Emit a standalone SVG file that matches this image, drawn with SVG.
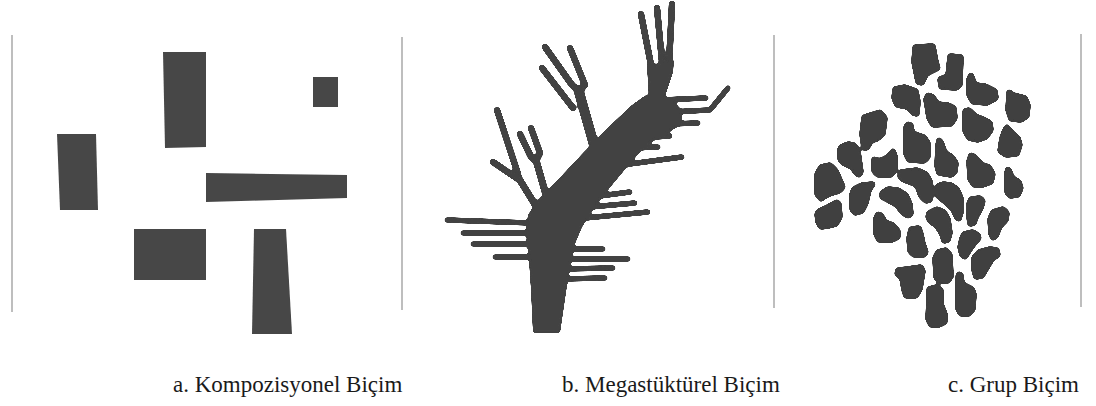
<svg xmlns="http://www.w3.org/2000/svg" width="1096" height="406" viewBox="0 0 1096 406">
<defs>
<style>
.frame{stroke:#a8a8a8;stroke-width:1.5;fill:none}
.blk{fill:#474747}
.tree{fill:#424242}
.br{fill:none;stroke:#424242;stroke-width:6.5;stroke-linejoin:round;stroke-linecap:round}
.rung{fill:none;stroke:#424242;stroke-width:5.5;stroke-linejoin:round;stroke-linecap:round}
.blob{fill:#3f3f3f;stroke:#3f3f3f;stroke-width:5.5;stroke-linejoin:round}
.lbl{font-family:"Liberation Serif","Times New Roman",serif;font-size:23px;fill:#1a1a1a}
</style>
<filter id="soft" x="-5%" y="-5%" width="110%" height="110%"><feGaussianBlur stdDeviation="0.5"/></filter>
<filter id="goo" x="-5%" y="-5%" width="110%" height="110%">
<feGaussianBlur in="SourceGraphic" stdDeviation="1.6" result="b"/>
<feColorMatrix in="b" type="matrix" values="1 0 0 0 0  0 1 0 0 0  0 0 1 0 0  0 0 0 16 -7" result="g"/>
<feGaussianBlur in="g" stdDeviation="0.5"/>
</filter>
</defs>
<rect width="1096" height="406" fill="#ffffff"/>

<g id="frames">
<line class="frame" x1="12" y1="35" x2="12" y2="312"/>
<line class="frame" x1="402" y1="37" x2="402" y2="310"/>
<line class="frame" x1="774" y1="35" x2="774" y2="308"/>
<line class="frame" x1="1081" y1="34" x2="1081" y2="307"/>
</g>

<g id="panel-a" filter="url(#soft)">
<polygon class="blk" points="163,52 206,52 206,147 165,148"/>
<polygon class="blk" points="313,77 338,77 338,107 313,107"/>
<polygon class="blk" points="57,134 96,134 98,210 60,210"/>
<polygon class="blk" points="206,173 347,175 347,198 206,202"/>
<polygon class="blk" points="134,229 206,229 206,280 134,280"/>
<polygon class="blk" points="254,229 286,229 292,334 252,334"/>
</g>

<g id="panel-b" filter="url(#goo)">
<polygon class="tree" points="533,333 531,290 529,260 526,232 528,215 537,201 551,187 568,169 584,152 599,137 616,120 632,105 646,95 672,98 681,110 682,124 669,132 656,139 643,149 632,161 622,173 612,185 602,197 592,211 582,227 574,246 570,266 566,292 560,333"/>
<g id="top-branch">
<polyline class="br" points="641,14 652,70"/>
<polyline class="br" points="657,8 662,62"/>
<polyline class="br" points="672,4 669,66"/>
<polygon class="tree" points="647,66 674,60 673,72 664,99 649,99"/>
</g>
<g id="mid-branch">
<path class="br" d="M545,47 L572,85 Q579,93 585,85 L570,48"/>
<polyline class="br" points="542,68 573,108"/>
<polyline class="br" style="stroke-width:10" points="579,92 594,145"/>
</g>
<g id="low-branch">
<polyline class="br" points="497,110 518,174"/>
<polyline class="br" points="493,162 518,179"/>
<polyline class="br" style="stroke-width:7" points="518,177 539,211"/>
<path class="br" d="M520,134 L531,157 Q536,163 540,153 L531,128"/>
<polyline class="br" style="stroke-width:7" points="536,160 548,202"/>
</g>
<g id="rungs">
<polyline class="rung" points="660,100 706,98"/>
<polyline class="rung" points="670,112 710,110 728,88"/>
<polyline class="rung" points="670,124 698,123"/>
<polyline class="rung" points="640,138 670,136"/>
<polyline class="rung" points="632,148 658,147"/>
<polyline class="rung" points="622,165 682,157"/>
<polyline class="rung" points="592,197 630,192"/>
<polyline class="rung" points="590,207 635,203"/>
<polyline class="rung" points="585,218 648,212"/>
<polyline class="rung" points="565,249 603,249"/>
<polyline class="rung" points="563,259 628,259"/>
<polyline class="rung" points="562,269 613,268"/>
<polyline class="rung" points="561,279 605,278"/>
<polyline class="rung" points="447,220 533,223"/>
<polyline class="rung" points="463,233 532,233"/>
<polyline class="rung" points="473,244 532,244"/>
<polyline class="rung" points="495,257 533,257"/>
</g>
</g>

<g id="panel-c" filter="url(#goo)">
<polygon class="blob" points="915,47 933,46 936,62 938,68 926,74 922,83 918,82 914,62"/>
<polygon class="blob" points="950,56 961,57 960,85 956,88 941,87 940,79 948,76"/>
<polygon class="blob" points="971,75 975,85 985,86 995,91 996,98 987,103 973,102 969,95 969,79"/>
<polygon class="blob" points="1009,92 1013,95 1025,98 1028,105 1027,116 1021,120 1011,119 1008,110"/>
<polygon class="blob" points="895,89 905,87 916,91 918,102 917,114 913,113 908,107 897,105 894,98"/>
<polygon class="blob" points="928,95 933,97 937,104 948,105 954,108 955,118 951,124 933,125 929,118 926,99"/>
<polygon class="blob" points="965,111 969,110 975,116 983,119 990,123 991,130 986,137 978,140 969,138 965,131"/>
<polygon class="blob" points="1007,127 1012,133 1018,138 1020,145 1017,154 1006,155 1000,151 1002,138 1005,130"/>
<polygon class="blob" points="864,117 880,112 885,118 883,134 877,139 871,141 867,148 864,148 862,134"/>
<polygon class="blob" points="908,124 911,125 912,133 924,137 928,143 928,157 924,161 909,160 906,154 906,127"/>
<polygon class="blob" points="939,140 941,142 945,153 952,157 956,163 955,172 951,175 939,173 937,166 938,145"/>
<polygon class="blob" points="971,155 975,157 982,165 989,167 993,174 991,182 983,185 974,185 970,179 969,161"/>
<polygon class="blob" points="1008,169 1010,172 1012,178 1019,182 1021,188 1018,195 1010,196 1007,192 1007,172"/>
<polygon class="blob" points="841,147 848,144 854,145 858,151 860,165 861,172 859,175 856,173 852,167 843,163 840,159 840,149"/>
<polygon class="blob" points="874,159 880,161 888,157 893,151 895,156 895,169 891,175 878,175 874,171"/>
<polygon class="blob" points="821,167 830,165 836,171 840,180 843,187 839,191 832,193 825,196 821,199 817,194 817,174"/>
<polygon class="blob" points="901,172 917,170 926,174 930,181 931,193 930,200 926,201 921,196 917,185 904,180 900,177"/>
<polygon class="blob" points="938,186 943,184 951,185 957,189 961,198 961,212 959,219 957,218 953,209 943,200 938,196 937,190"/>
<polygon class="blob" points="854,189 862,185 873,184 869,190 866,203 862,211 855,213 852,209 852,194"/>
<polygon class="blob" points="882,193 888,189 898,190 906,195 910,204 911,214 908,216 903,213 897,205 888,200 882,197"/>
<polygon class="blob" points="819,211 828,207 837,202 839,204 840,217 836,224 828,226 821,227 818,222 817,214"/>
<polygon class="blob" points="971,199 980,198 983,201 981,208 976,217 974,223 970,224 969,217 969,204"/>
<polygon class="blob" points="993,212 1003,209 1007,213 1006,220 1000,226 996,236 993,238 991,234 990,219"/>
<polygon class="blob" points="878,214 881,215 885,222 893,225 898,231 898,237 892,240 879,240 876,234 876,218"/>
<polygon class="blob" points="929,213 937,209 944,212 948,219 950,233 948,240 944,241 942,234 937,226 930,221 928,217"/>
<polygon class="blob" points="911,229 919,228 921,234 923,244 926,252 924,255 914,255 910,251 909,238"/>
<polygon class="blob" points="964,234 973,232 978,235 979,238 973,245 968,252 965,257 962,255 960,247 962,238"/>
<polygon class="blob" points="938,252 946,250 950,255 951,276 948,281 939,281 936,277 935,258"/>
<polygon class="blob" points="979,252 990,249 997,250 998,255 992,259 986,269 982,276 976,277 974,270 974,258"/>
<polygon class="blob" points="898,270 907,269 921,267 923,271 920,289 916,296 906,296 904,290 902,278 897,274"/>
<polygon class="blob" points="929,289 937,287 941,290 941,304 945,314 945,322 939,325 931,325 928,319 929,298"/>
<polygon class="blob" points="959,274 961,275 962,284 972,289 974,294 973,309 969,314 961,314 958,309 958,281"/>
</g>

<g id="labels">
<text class="lbl" x="173" y="392">a. Kompozisyonel Biçim</text>
<text class="lbl" x="562" y="392">b. Megastüktürel Biçim</text>
<text class="lbl" x="948" y="392">c. Grup Biçim</text>
</g>
</svg>
